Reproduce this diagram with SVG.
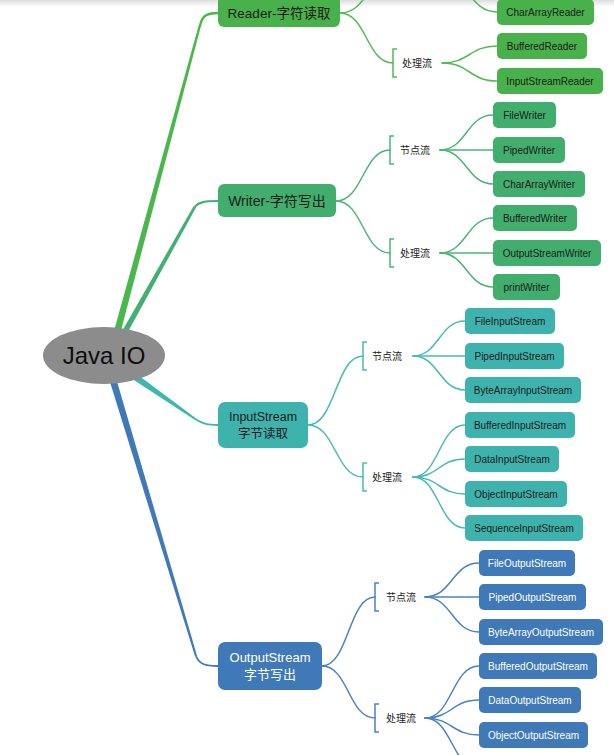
<svg xmlns="http://www.w3.org/2000/svg" width="614" height="755" viewBox="0 0 614 755">
  <defs>
    <linearGradient id="topShade" x1="0" y1="0" x2="0" y2="1">
      <stop offset="0" stop-color="#000" stop-opacity="0.13"/>
      <stop offset="1" stop-color="#000" stop-opacity="0"/>
    </linearGradient>
    <style>
      text { font-family: "Liberation Sans", "Noto Sans CJK SC", sans-serif; }
      .leaf text, .leaf { font-size: 10px; }
      .lbl { font-size: 10px; fill: #222; }
      .dark { fill: #1a1a1a; }
      .light { fill: #ffffff; }
      .c { text-anchor: middle; }
      .rd { fill: #48b14b; }
      .wr { fill: #41ae6d; }
      .in { fill: #3eb3ad; }
      .ou { fill: #3f79b8; }
      .ln { fill: none; stroke-width: 1.5; stroke-linecap: round; }
      .lrd { stroke: #52ba54; }
      .lwr { stroke: #4ab578; }
      .lin { stroke: #48bab3; }
      .lou { stroke: #4a82c1; }
      .brk { fill: none; stroke-width: 1.5; }
    </style>
  </defs>

  <rect x="0" y="0" width="614" height="755" fill="#ffffff"/>
  <rect x="0" y="0" width="614" height="7" fill="url(#topShade)"/>

  <!-- connectors -->
  <g id="connectors">
    <!-- main tapered branches from the root -->
    <polygon points="111.5,340 118.5,340 201.2,25 198.8,25" fill="#48b84b"/>
    <path d="M200,26 C202,16 206,13 218,13" fill="none" stroke="#48b84b" stroke-width="2.4"/>
    <polygon points="117,340 123.5,340 196.3,207 193.7,206" fill="#42b072"/>
    <path d="M195,206.5 C199,202 205,201 218,201" fill="none" stroke="#42b072" stroke-width="2.2"/>
    <polygon points="129.9,368.9 126.1,375.1 195.4,420.3 196.6,418.7" fill="#3fb6ae"/>
    <path d="M196,419.5 C203,424 208,425 218,425" fill="none" stroke="#3fb6ae" stroke-width="1.8"/>
    <polygon points="116.3,379 109.7,381 195,656.3 197,655.7" fill="#3f79b8"/>
    <path d="M196,656 C199,664 205,666 218,666" fill="none" stroke="#3f79b8" stroke-width="1.8"/>

    <!-- Reader -->
    <path class="ln lrd" d="M340,13 C366.5,13 366.5,-22 393,-22"/>
    <path class="ln lrd" d="M340,13 C366.5,13 366.5,63 393,63"/>
    <path class="ln lrd" d="M442,-22 C469.5,-22 469.5,12 497,12"/>
    <path class="ln lrd" d="M442,63 C469.5,63 469.5,46 497,46"/>
    <path class="ln lrd" d="M442,63 C469.5,63 469.5,81 497,81"/>

    <!-- Writer -->
    <path class="ln lwr" d="M336,201 C363,201 363,150 390,150"/>
    <path class="ln lwr" d="M336,201 C363,201 363,253 390,253"/>
    <path class="ln lwr" d="M440,150 C466.5,150 466.5,115 493,115"/>
    <path class="ln lwr" d="M440,150 L493,150"/>
    <path class="ln lwr" d="M440,150 C466.5,150 466.5,184 493,184"/>
    <path class="ln lwr" d="M440,253 C466.5,253 466.5,218 493,218"/>
    <path class="ln lwr" d="M440,253 L493,253"/>
    <path class="ln lwr" d="M440,253 C466.5,253 466.5,287 493,287"/>

    <!-- InputStream -->
    <path class="ln lin" d="M308,425 C335.5,425 335.5,356 363,356"/>
    <path class="ln lin" d="M308,425 C335.5,425 335.5,477 363,477"/>
    <path class="ln lin" d="M413,356 C439,356 439,321 465,321"/>
    <path class="ln lin" d="M413,356 L465,356"/>
    <path class="ln lin" d="M413,356 C439,356 439,390 465,390"/>
    <path class="ln lin" d="M413,477 C439,477 439,425 465,425"/>
    <path class="ln lin" d="M413,477 C439,477 439,459 465,459"/>
    <path class="ln lin" d="M413,477 C439,477 439,494 465,494"/>
    <path class="ln lin" d="M413,477 C439,477 439,528 465,528"/>

    <!-- OutputStream -->
    <path class="ln lou" d="M322,666 C348.5,666 348.5,597 375,597"/>
    <path class="ln lou" d="M322,666 C348.5,666 348.5,718 375,718"/>
    <path class="ln lou" d="M425,597 C452,597 452,563 479,563"/>
    <path class="ln lou" d="M425,597 L479,597"/>
    <path class="ln lou" d="M425,597 C452,597 452,632 479,632"/>
    <path class="ln lou" d="M425,718 C452,718 452,666 479,666"/>
    <path class="ln lou" d="M425,718 C452,718 452,700 479,700"/>
    <path class="ln lou" d="M425,718 C452,718 452,735 479,735"/>
    <path class="ln lou" d="M425,718 C452,718 452,769 479,769"/>
  </g>

  <!-- root -->
  <g id="node-java-io">
    <ellipse cx="104" cy="355.5" rx="61" ry="28.5" fill="#8c8c8c"/>
    <text x="104" y="364" class="c" font-size="24" fill="#0d0d0d">Java IO</text>
  </g>

  <!-- Reader branch -->
  <g id="node-reader">
    <rect x="218" y="-4" width="122" height="31" rx="6" class="rd"/>
    <text x="279" y="17.5" class="c dark" font-size="13.5">Reader-字符读取</text>
  </g>
  <g id="node-reader-process">
    <path class="brk lrd" d="M397,49 H393 V77 H397"/>
    <text x="402" y="66.5" class="lbl">处理流</text>
  </g>
  <g id="node-chararrayreader" class="leaf">
    <rect x="497" y="-1" width="97" height="26" rx="5" class="rd"/>
    <text x="545.5" y="15.5" class="c dark">CharArrayReader</text>
  </g>
  <g id="node-bufferedreader" class="leaf">
    <rect x="497" y="33" width="90" height="26" rx="5" class="rd"/>
    <text x="542" y="49.5" class="c dark">BufferedReader</text>
  </g>
  <g id="node-inputstreamreader" class="leaf">
    <rect x="497" y="68" width="106" height="26" rx="5" class="rd"/>
    <text x="550" y="84.5" class="c dark">InputStreamReader</text>
  </g>

  <!-- Writer branch -->
  <g id="node-writer">
    <rect x="218" y="184" width="118" height="33" rx="6" class="wr"/>
    <text x="277" y="206" class="c dark" font-size="14">Writer-字符写出</text>
  </g>
  <g id="node-writer-node">
    <path class="brk lwr" d="M394,136 H390 V164 H394"/>
    <text x="400" y="153.5" class="lbl">节点流</text>
  </g>
  <g id="node-writer-process">
    <path class="brk lwr" d="M394,239 H390 V267 H394"/>
    <text x="400" y="256.5" class="lbl">处理流</text>
  </g>
  <g id="node-filewriter" class="leaf">
    <rect x="493" y="102" width="63" height="26" rx="5" class="wr"/>
    <text x="524.5" y="118.5" class="c dark">FileWriter</text>
  </g>
  <g id="node-pipedwriter" class="leaf">
    <rect x="493" y="137" width="72" height="26" rx="5" class="wr"/>
    <text x="529" y="153.5" class="c dark">PipedWriter</text>
  </g>
  <g id="node-chararraywriter" class="leaf">
    <rect x="493" y="171" width="92" height="26" rx="5" class="wr"/>
    <text x="539" y="187.5" class="c dark">CharArrayWriter</text>
  </g>
  <g id="node-bufferedwriter" class="leaf">
    <rect x="493" y="205" width="84" height="26" rx="5" class="wr"/>
    <text x="535" y="221.5" class="c dark">BufferedWriter</text>
  </g>
  <g id="node-outputstreamwriter" class="leaf">
    <rect x="493" y="240" width="108" height="26" rx="5" class="wr"/>
    <text x="547" y="256.5" class="c dark">OutputStreamWriter</text>
  </g>
  <g id="node-printwriter" class="leaf">
    <rect x="493" y="274" width="67" height="26" rx="5" class="wr"/>
    <text x="526.5" y="290.5" class="c dark">printWriter</text>
  </g>

  <!-- InputStream branch -->
  <g id="node-inputstream">
    <rect x="218" y="402" width="90" height="46" rx="7" class="in"/>
    <text x="263" y="421" class="c dark" font-size="12.5">InputStream</text>
    <text x="263" y="438" class="c dark" font-size="12.5">字节读取</text>
  </g>
  <g id="node-inputstream-node">
    <path class="brk lin" d="M367,342 H363 V370 H367"/>
    <text x="372" y="359.5" class="lbl">节点流</text>
  </g>
  <g id="node-inputstream-process">
    <path class="brk lin" d="M367,463 H363 V491 H367"/>
    <text x="372" y="480.5" class="lbl">处理流</text>
  </g>
  <g id="node-fileinputstream" class="leaf">
    <rect x="465" y="308" width="90" height="26" rx="5" class="in"/>
    <text x="510" y="324.5" class="c dark">FileInputStream</text>
  </g>
  <g id="node-pipedinputstream" class="leaf">
    <rect x="465" y="343" width="99" height="26" rx="5" class="in"/>
    <text x="514.5" y="359.5" class="c dark">PipedInputStream</text>
  </g>
  <g id="node-bytearrayinputstream" class="leaf">
    <rect x="465" y="377" width="116" height="26" rx="5" class="in"/>
    <text x="523" y="393.5" class="c dark">ByteArrayInputStream</text>
  </g>
  <g id="node-bufferedinputstream" class="leaf">
    <rect x="465" y="412" width="110" height="26" rx="5" class="in"/>
    <text x="520" y="428.5" class="c dark">BufferedInputStream</text>
  </g>
  <g id="node-datainputstream" class="leaf">
    <rect x="465" y="446" width="94" height="26" rx="5" class="in"/>
    <text x="512" y="462.5" class="c dark">DataInputStream</text>
  </g>
  <g id="node-objectinputstream" class="leaf">
    <rect x="465" y="481" width="102" height="26" rx="5" class="in"/>
    <text x="516" y="497.5" class="c dark">ObjectInputStream</text>
  </g>
  <g id="node-sequenceinputstream" class="leaf">
    <rect x="465" y="515" width="118" height="26" rx="5" class="in"/>
    <text x="524" y="531.5" class="c dark">SequenceInputStream</text>
  </g>

  <!-- OutputStream branch -->
  <g id="node-outputstream">
    <rect x="218" y="642" width="104" height="48" rx="7" class="ou"/>
    <text x="270" y="662" class="c light" font-size="13">OutputStream</text>
    <text x="270" y="679" class="c light" font-size="13">字节写出</text>
  </g>
  <g id="node-outputstream-node">
    <path class="brk lou" d="M379,583 H375 V611 H379"/>
    <text x="386" y="600.5" class="lbl">节点流</text>
  </g>
  <g id="node-outputstream-process">
    <path class="brk lou" d="M379,704 H375 V732 H379"/>
    <text x="386" y="721.5" class="lbl">处理流</text>
  </g>
  <g id="node-fileoutputstream" class="leaf">
    <rect x="479" y="550" width="96" height="26" rx="5" class="ou"/>
    <text x="527" y="566.5" class="c light">FileOutputStream</text>
  </g>
  <g id="node-pipedoutputstream" class="leaf">
    <rect x="479" y="584" width="107" height="26" rx="5" class="ou"/>
    <text x="532.5" y="600.5" class="c light">PipedOutputStream</text>
  </g>
  <g id="node-bytearrayoutputstream" class="leaf">
    <rect x="479" y="619" width="124" height="26" rx="5" class="ou"/>
    <text x="541" y="635.5" class="c light">ByteArrayOutputStream</text>
  </g>
  <g id="node-bufferedoutputstream" class="leaf">
    <rect x="479" y="653" width="118" height="26" rx="5" class="ou"/>
    <text x="538" y="669.5" class="c light">BufferedOutputStream</text>
  </g>
  <g id="node-dataoutputstream" class="leaf">
    <rect x="479" y="687" width="102" height="26" rx="5" class="ou"/>
    <text x="530" y="703.5" class="c light">DataOutputStream</text>
  </g>
  <g id="node-objectoutputstream" class="leaf">
    <rect x="479" y="722" width="109" height="26" rx="5" class="ou"/>
    <text x="533.5" y="738.5" class="c light">ObjectOutputStream</text>
  </g>
</svg>
